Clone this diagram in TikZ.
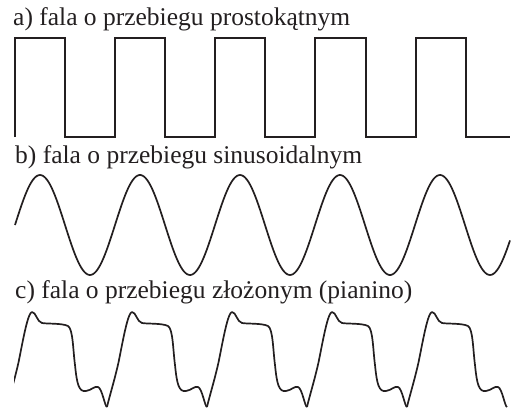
\documentclass[tikz,border=0pt]{standalone}
\usepackage{fontspec}
\setmainfont{Liberation Serif}
\definecolor{ink}{HTML}{231F20}
\begin{document}
\begin{tikzpicture}[x=1pt,y=-1pt,
  lbl/.style={anchor=base west,inner sep=0pt,text=ink,font=\fontsize{25.5}{30}\selectfont},
  wave/.style={draw=ink,line width=1.7pt,line join=miter}]
\useasboundingbox (0,0) rectangle (511,409);
% labels
\node[lbl] (la) at (13,26) {a) fala o przebiegu prostokątnym};
\node[lbl] (lb) at (15,163) {b) fala o przebiegu sinusoidalnym};
\node[lbl] (lc) at (15,298) {c) fala o przebiegu złożonym (pianino)};
% a) square wave
\draw[wave] (15,137) -- (15,38) -- (65,38) -- (65,137) -- (115,137) -- (115,38)
  -- (165,38) -- (165,137) -- (215,137) -- (215,38) -- (265,38) -- (265,137)
  -- (315,137) -- (315,38) -- (366,38) -- (366,137) -- (416,137) -- (416,38)
  -- (466,38) -- (466,137) -- (510,137);
% b) sine wave
\draw[wave,line join=round] plot[domain=15:510,samples=300] (\x,{225-50*cos(3.6*(\x-40))});
% c) piano wave
\begin{scope}
\clip (14,290) rectangle (510,409);
\foreach \p in {-68,32,132,232,332,432}{
  \draw[wave,line join=round] (\p-25,407)
    .. controls (\p-23,398) and (\p-16,375) .. (\p-13,360)
    .. controls (\p-9,340) and (\p-4,312) .. (\p,312)
    .. controls (\p+4,312) and (\p+5,322) .. (\p+10,323)
    .. controls (\p+15,324) and (\p+30,323) .. (\p+36,326)
    .. controls (\p+41,329) and (\p+41,350) .. (\p+43,365)
    .. controls (\p+45,385) and (\p+47,392) .. (\p+54,391)
    .. controls (\p+60,390) and (\p+62,386) .. (\p+66,387)
    .. controls (\p+70,388) and (\p+73,407) .. (\p+75,407);
}
\end{scope}
\end{tikzpicture}
\end{document}
